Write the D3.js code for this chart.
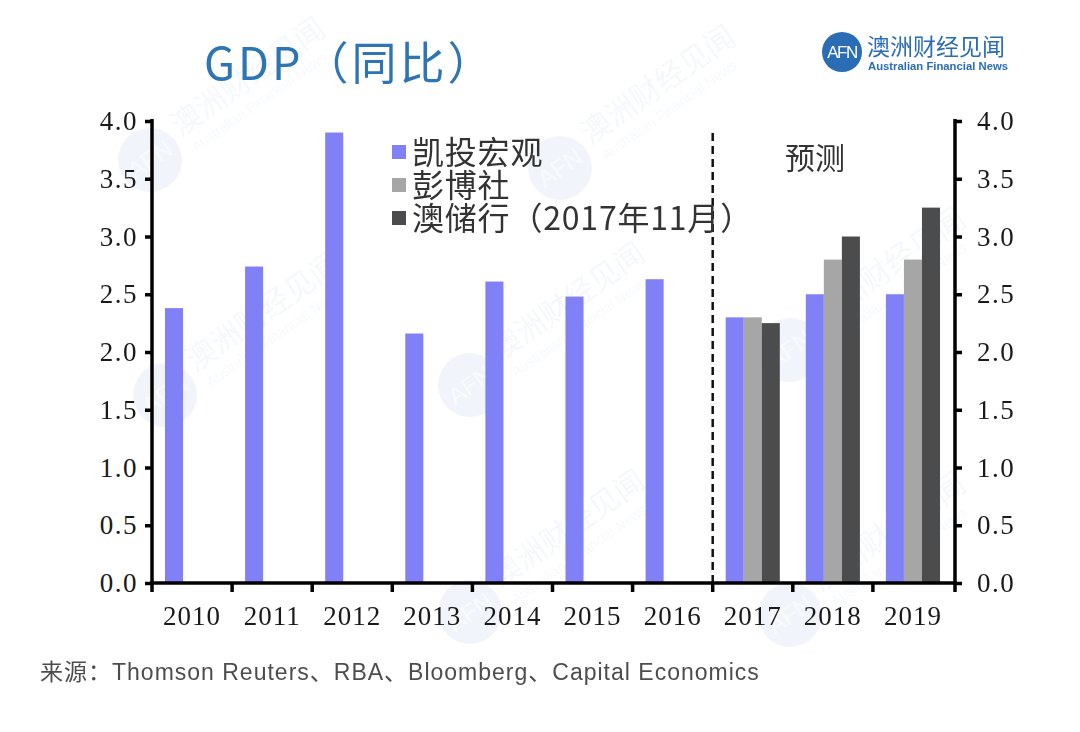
<!DOCTYPE html>
<html><head><meta charset="utf-8">
<script src="https://cdn.jsdelivr.net/npm/d3@7"></script>
<style>
html,body{margin:0;padding:0;background:#fff;}
svg{display:block;}
</style></head>
<body>
<svg id="chart" width="1080" height="732"></svg>
<script>
// ---- data ----
const years = ["2010","2011","2012","2013","2014","2015","2016","2017","2018","2019"];
const seriesNames = ["凯投宏观","彭博社","澳储行（2017年11月）"];
const capitalEconomics = [2.38, 2.74, 3.9, 2.16, 2.61, 2.48, 2.63, 2.3, 2.5, 2.5];
const bloomberg = [null, null, null, null, null, null, null, 2.3, 2.8, 2.8];
const rba = [null, null, null, null, null, null, null, 2.25, 3.0, 3.25];
const yTicks = [0, 0.5, 1.0, 1.5, 2.0, 2.5, 3.0, 3.5, 4.0];
const forecastStart = "2017";
const titleText = "GDP（同比）";
const forecastLabel = "预测";
const sourceText = "来源：Thomson Reuters、RBA、Bloomberg、Capital Economics";

const colors = ["#8080f7", "#a6a6a6", "#4b4c4e"];
const seriesValues = [capitalEconomics, bloomberg, rba];

const svg = d3.select("#chart");
const mLeft = 152, mRight = 953, mTop = 121, mBottom = 583;

const x0 = d3.scaleBand().domain(years).range([mLeft, mRight]).padding(0);
const x1 = d3.scaleBand().domain(seriesNames).range([0, x0.bandwidth()]).paddingInner(0).paddingOuter(0.72);
const y = d3.scaleLinear().domain([0, 4]).range([mBottom, mTop]);

// ---- watermarks ----
const wm = svg.append("g").attr("opacity", 0.5);
const wmPos = [[150,160],[560,168],[165,395],[470,385],[790,350],[470,612],[790,615]];
wmPos.forEach(([cx, cy]) => {
  const g = wm.append("g").attr("transform", `translate(${cx},${cy}) rotate(-35)`);
  g.append("circle").attr("r", 32).attr("fill", "#e3ebf6");
  g.append("text").attr("text-anchor","middle").attr("dy","0.35em")
    .attr("font-family","Liberation Sans, Arial").attr("font-size",24).attr("fill","#f3f6fb").text("AFN");
  g.append("text").attr("x", 38).attr("y", -2).attr("font-family","Noto Sans CJK SC")
    .attr("font-size", 30).attr("fill","#e9eff8").text("澳洲财经见闻");
  g.append("text").attr("x", 42).attr("y", 20).attr("font-family","Liberation Sans, Arial")
    .attr("font-size", 14).attr("fill","#edf2f9").text("Australian Financial News");
});

// ---- bars ----
const barData = [];
years.forEach((yr, i) => {
  seriesNames.forEach((s, j) => {
    const v = seriesValues[j][i];
    if (v != null) barData.push({year: yr, series: s, value: v, color: colors[j]});
  });
});
svg.append("g").selectAll("rect").data(barData).join("rect")
  .attr("x", d => x0(d.year) + x1(d.series))
  .attr("width", x1.bandwidth())
  .attr("y", d => y(d.value))
  .attr("height", d => y(0) - y(d.value))
  .attr("fill", d => d.color);

// ---- dashed forecast line ----
svg.append("line")
  .attr("x1", x0(forecastStart)).attr("x2", x0(forecastStart))
  .attr("y1", 133).attr("y2", mBottom)
  .attr("stroke", "#111").attr("stroke-width", 2.5).attr("stroke-dasharray", "8,5");

// ---- axes ----
const tickFont = "Liberation Serif, Times New Roman, serif";
const fmt = d3.format(".1f");

const gl = svg.append("g").attr("transform", `translate(${mLeft},0)`)
  .call(d3.axisLeft(y).tickValues(yTicks).tickFormat(fmt).tickSizeInner(7).tickSizeOuter(0).tickPadding(7));
const gr = svg.append("g").attr("transform", `translate(${mRight + 2},0)`)
  .call(d3.axisRight(y).tickValues(yTicks).tickFormat(fmt).tickSizeInner(7).tickSizeOuter(0).tickPadding(15));
[gl, gr].forEach(g => {
  g.select(".domain").remove();
  g.selectAll(".tick line").attr("stroke", "#000").attr("stroke-width", 3.5);
  g.selectAll(".tick text").attr("font-family", tickFont).attr("font-size", 27)
    .attr("letter-spacing", 1.5).attr("fill", "#1a1a1a");
  g.append("line").attr("x1",0).attr("x2",0).attr("y1",mTop-2).attr("y2",mBottom+2)
    .attr("stroke","#000").attr("stroke-width",3.5);
});

// bottom axis: labels at band centers
const gb = svg.append("g").attr("transform", `translate(0,${mBottom})`)
  .call(d3.axisBottom(x0).tickSize(0).tickPadding(0));
gb.select(".domain").remove();
gb.selectAll(".tick text").attr("font-family", tickFont).attr("font-size", 27)
  .attr("letter-spacing", 1).attr("fill", "#1a1a1a").attr("dy", null).attr("y", 42);
// boundary ticks
const bounds = years.map(d => x0(d)).concat([x0.range()[1] + 2]);
svg.append("g").selectAll("line").data(bounds).join("line")
  .attr("x1", d => d).attr("x2", d => d).attr("y1", mBottom).attr("y2", mBottom + 9)
  .attr("stroke", "#000").attr("stroke-width", 3.5);
svg.append("line").attr("x1", mLeft - 2).attr("x2", mRight + 4).attr("y1", mBottom).attr("y2", mBottom)
  .attr("stroke", "#000").attr("stroke-width", 3.5);

// ---- legend ----
const lg = svg.append("g").attr("transform", "translate(392,152)");
seriesNames.forEach((s, i) => {
  const row = lg.append("g").attr("transform", `translate(0,${i * 33})`);
  row.append("rect").attr("x", 0).attr("y", -7).attr("width", 14).attr("height", 14).attr("fill", colors[i]);
  row.append("text").attr("x", 20).attr("y", 0).attr("dy", "0.36em")
    .attr("font-family", "Noto Sans CJK SC").attr("font-size", 32).attr("letter-spacing", 0.8)
    .attr("fill", "#333").text(s);
});

// forecast label
svg.append("text").attr("x", 785).attr("y", 158).attr("dy", "0.36em")
  .attr("font-family", "Noto Sans CJK SC").attr("font-size", 30).attr("fill", "#333").text(forecastLabel);

// ---- title ----
svg.append("text").attr("x", 204).attr("y", 80)
  .attr("font-family", "Noto Sans CJK SC").attr("font-size", 45).attr("letter-spacing", 3)
  .attr("fill", "#2e75b6").text(titleText);

// ---- logo ----
const logo = svg.append("g");
logo.append("circle").attr("cx", 842).attr("cy", 52).attr("r", 20).attr("fill", "#2b6db4");
logo.append("text").attr("x", 842).attr("y", 52).attr("dy", "0.36em").attr("text-anchor", "middle")
  .attr("font-family", "Liberation Sans, Arial").attr("font-size", 17).attr("letter-spacing", -1.5)
  .attr("fill", "#fff").text("AFN");
logo.append("text").attr("x", 867).attr("y", 55).attr("font-family", "Noto Sans CJK SC")
  .attr("font-size", 23).attr("fill", "#2b6db4").text("澳洲财经见闻");
logo.append("text").attr("x", 868).attr("y", 70).attr("font-family", "Liberation Sans, Arial")
  .attr("font-size", 11.3).attr("font-weight", "bold").attr("fill", "#2b6db4").text("Australian Financial News");

// ---- source ----
svg.append("text").attr("x", 40).attr("y", 680).attr("font-family", "Liberation Sans, Noto Sans CJK SC")
  .attr("font-size", 23).attr("letter-spacing", 1).attr("fill", "#4d4d4d").text(sourceText);
</script>
</body></html>
